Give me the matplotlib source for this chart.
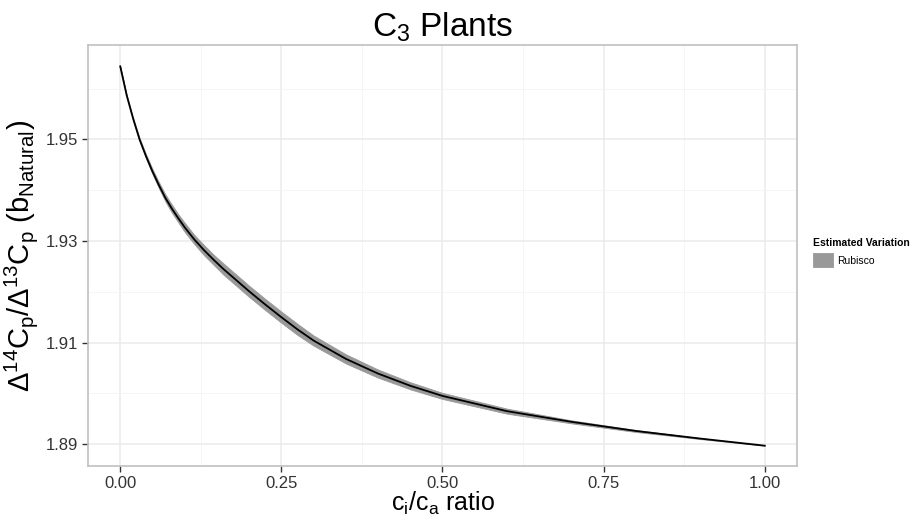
import numpy as np
import matplotlib
matplotlib.use("Agg")
import matplotlib.pyplot as plt

plt.rcParams['font.family'] = ['Liberation Sans', 'DejaVu Sans']
plt.rcParams['mathtext.fontset'] = 'custom'
plt.rcParams['mathtext.rm'] = 'Liberation Sans'
plt.rcParams['mathtext.it'] = 'Liberation Sans:italic'
plt.rcParams['mathtext.bf'] = 'Liberation Sans:bold'

# values
ci_ca = [0.00, 0.01, 0.02, 0.03, 0.04, 0.05, 0.06, 0.07, 0.08, 0.09,
         0.10, 0.115, 0.13, 0.145, 0.16, 0.18, 0.20, 0.225, 0.25, 0.275,
         0.30, 0.35, 0.40, 0.45, 0.50, 0.60, 0.70, 0.80, 0.90, 1.00]
b_ratio = [1.9644, 1.9587, 1.9541, 1.9500, 1.9467, 1.9437, 1.9410, 1.9385,
           1.9364, 1.9345, 1.9327, 1.9303, 1.9282, 1.9263, 1.9245, 1.9223,
           1.9201, 1.9175, 1.9150, 1.9126, 1.9104, 1.9068, 1.9039, 1.9015,
           1.8995, 1.8965, 1.8944, 1.8926, 1.8911, 1.8897]
# ribbon half-width (estimated variation)
band_half = [0.0000, 0.0001, 0.0002, 0.0003, 0.0004, 0.0005, 0.0006, 0.0007,
             0.0008, 0.0008, 0.0009, 0.0009, 0.0010, 0.0010, 0.0011, 0.0011,
             0.0011, 0.0011, 0.0011, 0.0011, 0.0010, 0.0009, 0.0008, 0.0007,
             0.0006, 0.0005, 0.0003, 0.0002, 0.0001, 0.0000]

xticks = [0.00, 0.25, 0.50, 0.75, 1.00]
yticks = [1.89, 1.91, 1.93, 1.95]

band_lo = [y - h for y, h in zip(b_ratio, band_half)]
band_hi = [y + h for y, h in zip(b_ratio, band_half)]

fig = plt.figure(figsize=(9.15, 5.15), dpi=100, facecolor='white')
ax = fig.add_axes([88/915, 49/515, 709/915, 421/515])

ax.fill_between(ci_ca, band_lo, band_hi, color='#999999', lw=0.6,
                edgecolor='#999999', label='Rubisco')
ax.plot(ci_ca, b_ratio, color='black', lw=1.3)

ax.set_xlim(-0.05, 1.05)
ax.set_ylim(1.8857, 1.9686)
ax.set_xticks(xticks)
ax.set_xticklabels([f"{v:.2f}" for v in xticks])
ax.set_yticks(yticks)
ax.set_yticklabels([f"{v:.2f}" for v in yticks])
ax.set_xticks([0.125, 0.375, 0.625, 0.875], minor=True)
ax.set_yticks([1.90, 1.92, 1.94, 1.96], minor=True)
ax.tick_params(which='minor', length=0)
ax.tick_params(which='major', length=4, width=1, color='#333333',
               labelsize=12, labelcolor='#333333', pad=3)

ax.grid(which='major', color='#ebebeb', lw=1.1)
ax.grid(which='minor', color='#f4f4f4', lw=0.6)
ax.set_axisbelow(True)
for s in ax.spines.values():
    s.set_color('#c0c0c0')
    s.set_linewidth(1.2)

ax.set_xlabel(r'$\mathrm{c_i/c_a}$ ratio', fontsize=18, labelpad=-1)
ax.set_ylabel(r'$\Delta^{14}\mathrm{C_p}/\Delta^{13}\mathrm{C_p}\ (\mathrm{b_{Natural}})$',
              fontsize=21, labelpad=4)
ax.set_title(r'$\mathrm{C_3}$ Plants', fontsize=24, pad=6)

leg = ax.legend(loc='upper left', bbox_to_anchor=(813/915, 1 - 238/515),
                bbox_transform=fig.transFigure, frameon=False,
                title='Estimated Variation', fontsize=7.5,
                title_fontproperties={'weight': 'bold', 'size': 7.5},
                handlelength=1.9, handleheight=1.7, handletextpad=0.4,
                borderpad=0, borderaxespad=0)
leg._legend_box.align = 'left'

fig.savefig('out.png', dpi=100, facecolor='white')
